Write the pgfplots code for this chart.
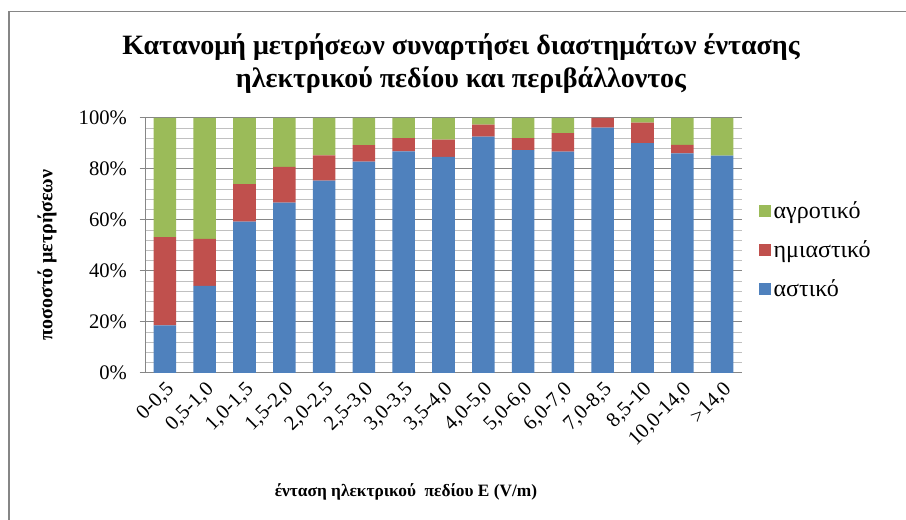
\documentclass[border=0pt]{standalone}
\usepackage{fontspec}
\setmainfont{Liberation Serif}
\usepackage{pgfplots}
\pgfplotsset{compat=1.18}
\definecolor{cblue}{RGB}{79,129,189}
\definecolor{cred}{RGB}{192,80,77}
\definecolor{cgreen}{RGB}{155,187,89}
\definecolor{gmaj}{RGB}{134,134,134}
\definecolor{gmin}{RGB}{192,192,192}
\begin{document}
\begin{tikzpicture}
\path[use as bounding box] (0,0) rectangle (679.5pt,390pt);
\draw[gmaj, line width=1.1pt] (6.75pt,0) -- (6.75pt,381.4pt) -- (679.5pt,381.4pt);
\begin{axis}[
  at={(108.75pt,110.25pt)}, anchor=south west,
  scale only axis, width=447.75pt, height=191.25pt,
  ybar stacked, bar width=16.9pt,
  xmin=-0.5, xmax=14.5, ymin=0, ymax=100,
  xtick={0,...,14},
  xticklabels={{0-0,5},{0,5-1,0},{1,0-1,5},{1,5-2,0},{2,0-2,5},{2,5-3,0},{3,0-3,5},{3,5-4,0},{4,0-5,0},{5,0-6,0},{6,0-7,0},{7,0-8,5},{8,5-10},{10,0-14,0},{>14,0}},
  xticklabel style={rotate=45, anchor=north east, inner sep=1pt, font=\rmfamily\fontsize{15.5}{17}\selectfont},
  x tick style={draw=none},
  ytick={0,20,...,100},
  yticklabels={0\%,20\%,40\%,60\%,80\%,100\%},
  yticklabel style={font=\rmfamily\fontsize{15.5}{17}\selectfont, xshift=-6pt},
  /pgf/number format/assume math mode=true,
  minor y tick num=4,
  ymajorgrids, yminorgrids,
  major grid style={gmaj, line width=0.75pt},
  minor grid style={gmin, line width=0.75pt},
  axis x line*=bottom, axis y line*=left,
  axis line style={gmaj, line width=0.75pt, -},
  y tick style={gmaj, line width=0.75pt},
  tick align=outside, major tick length=4pt, minor tick length=0pt,
  legend style={at={(1.028,0.685)}, anchor=north west, draw=none, fill=none,
    font=\rmfamily\fontsize{18}{19}\selectfont, row sep=11pt, inner sep=0pt,
    legend cell align=left},
  legend image code/.code={\fill[#1] (0pt,-4.5pt) rectangle (9pt,4.5pt);},
  reverse legend,
]
\addplot[fill=cblue, draw=none] coordinates {(0,18.7) (1,34.2) (2,59.4) (3,66.8) (4,75.4) (5,82.9) (6,86.9) (7,84.8) (8,92.7) (9,87.4) (10,86.8) (11,96.2) (12,90.1) (13,86.1) (14,85.2)};
\addplot[fill=cred, draw=none] coordinates {(0,34.6) (1,18.4) (2,14.7) (3,14.0) (4,9.9) (5,6.5) (6,5.2) (7,6.7) (8,4.7) (9,4.7) (10,7.3) (11,3.8) (12,8.1) (13,3.4) (14,0)};
\addplot[fill=cgreen, draw=none] coordinates {(0,46.7) (1,47.4) (2,25.9) (3,19.2) (4,14.7) (5,10.6) (6,7.9) (7,8.5) (8,2.6) (9,7.9) (10,5.9) (11,0) (12,1.8) (13,10.5) (14,14.8)};
\legend{αστικό, ημιαστικό, αγροτικό}
\end{axis}
\node[align=center, font=\fontsize{21}{24.75}\selectfont\bfseries] at (345.75pt,342.4pt) {Κατανομή μετρήσεων συναρτήσει διαστημάτων έντασης\\ηλεκτρικού πεδίου και περιβάλλοντος};
\node[font=\fontsize{13}{15}\selectfont\bfseries] at (304.5pt,21pt) {ένταση ηλεκτρικού~ πεδίου E (V/m)};
\node[rotate=90, font=\fontsize{15}{17}\selectfont\bfseries] at (35.25pt,198.75pt) {ποσοστό μετρήσεων};
\end{tikzpicture}
\end{document}
